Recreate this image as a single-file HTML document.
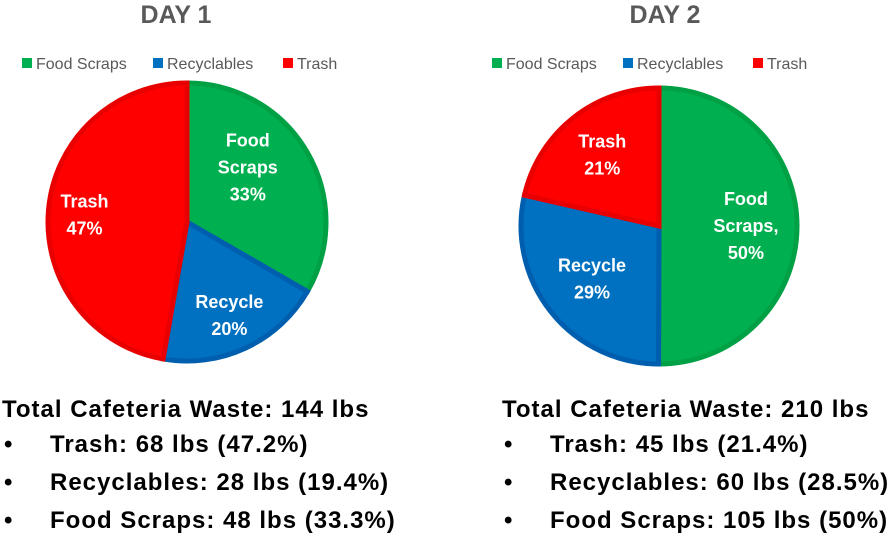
<!DOCTYPE html>
<html><head><meta charset="utf-8"><style>
body{margin:0;width:887px;height:536px;background:#fff;font-family:"Liberation Sans",Arial,sans-serif;overflow:hidden}
svg{position:absolute;left:0;top:0}
.t{position:absolute;font-weight:bold;font-size:24px;letter-spacing:1px;color:#000;white-space:nowrap}
</style></head><body>
<svg id="c" width="887" height="380"></svg>
<div class="t" style="left:2px;top:396px">Total Cafeteria Waste: 144 lbs</div>
<div class="t" style="left:4px;top:431px">•<span style="position:absolute;left:46px">Trash: 68 lbs (47.2%)</span></div>
<div class="t" style="left:4px;top:469px">•<span style="position:absolute;left:46px">Recyclables: 28 lbs (19.4%)</span></div>
<div class="t" style="left:4px;top:507px">•<span style="position:absolute;left:46px">Food Scraps: 48 lbs (33.3%)</span></div>
<div class="t" style="left:502px;top:396px">Total Cafeteria Waste: 210 lbs</div>
<div class="t" style="left:504px;top:431px">•<span style="position:absolute;left:46px">Trash: 45 lbs (21.4%)</span></div>
<div class="t" style="left:504px;top:469px">•<span style="position:absolute;left:46px">Recyclables: 60 lbs (28.5%)</span></div>
<div class="t" style="left:504px;top:507px">•<span style="position:absolute;left:46px">Food Scraps: 105 lbs (50%)</span></div>
<script>
const categories=["Food Scraps","Recyclables","Trash"];
const day1Values=[33.3,19.4,47.2];
const day2Values=[50,28.5,21.4];
const day1Labels=[["Food","Scraps","33%"],["Recycle","20%"],["Trash","47%"]];
const day2Labels=[["Food","Scraps,","50%"],["Recycle","29%"],["Trash","21%"]];
const fills=["#00b050","#0070c0","#ff0000"];
const strokes=["#00a044","#005eae","#e80000"];
const NS="http://www.w3.org/2000/svg";
const svg=document.getElementById('c');
function mk(t,a){const e=document.createElementNS(NS,t);for(const k in a)e.setAttribute(k,a[k]);svg.appendChild(e);return e;}
function pie(cx,cy,r,vals,labels,title,tx0,lx,lfrac,adj,prefix){
  const tt=mk('text',{x:tx0,y:23,'text-anchor':'middle','font-size':'25','font-weight':'bold',fill:'#595959'});tt.textContent=title;
  
  
  let x=lx;
  categories.forEach((c,i)=>{
    const s=mk('rect',{x:x,y:58,width:10,height:10,fill:fills[i]});
    
    
    const t=mk('text',{x:x+14,y:69,'font-size':'16',fill:'#595959'});t.textContent=c;
    
    
    x+=[131,130,0][i];
  });
  const tot=vals.reduce((a,b)=>a+b,0);let a0=0;
  vals.forEach((v,i)=>{
    const a1=a0+v/tot*2*Math.PI;
    const p=(a)=>[cx+r*Math.sin(a),cy-r*Math.cos(a)];
    const [x0,y0]=p(a0),[x1,y1]=p(a1);
    const path=mk('path',{d:`M${cx},${cy}L${x0},${y0}A${r},${r} 0 ${a1-a0>Math.PI?1:0} 1 ${x1},${y1}Z`,fill:fills[i],stroke:strokes[i],'stroke-width':'5','stroke-linejoin':'miter'});
    
    
    const m=(a0+a1)/2,lr=r*lfrac[i];
    const tx=cx+lr*Math.sin(m)+adj[i][0],ty=cy-lr*Math.cos(m)+adj[i][1];
    const ls=labels[i];const h=27;
    ls.forEach((s,j)=>{
      const t=mk('text',{x:tx,y:ty+(j-(ls.length-1)/2)*h+6,'text-anchor':'middle','font-size':'18','font-weight':'bold',fill:'#fff'});
      t.textContent=s;
      
      
    });
    a0=a1;
  });
}
pie(187,222,139,day1Values,day1Labels,"DAY 1",176,22,[0.58,0.72,0.74],[[-9,-14],[0,3],[0,2]],'day1');
pie(659,226,138,day2Values,day2Labels,"DAY 2",665,492,[0.63,0.62,0.66],[[0,0],[0,0],[0,0]],'day2');
</script>
</body></html>
